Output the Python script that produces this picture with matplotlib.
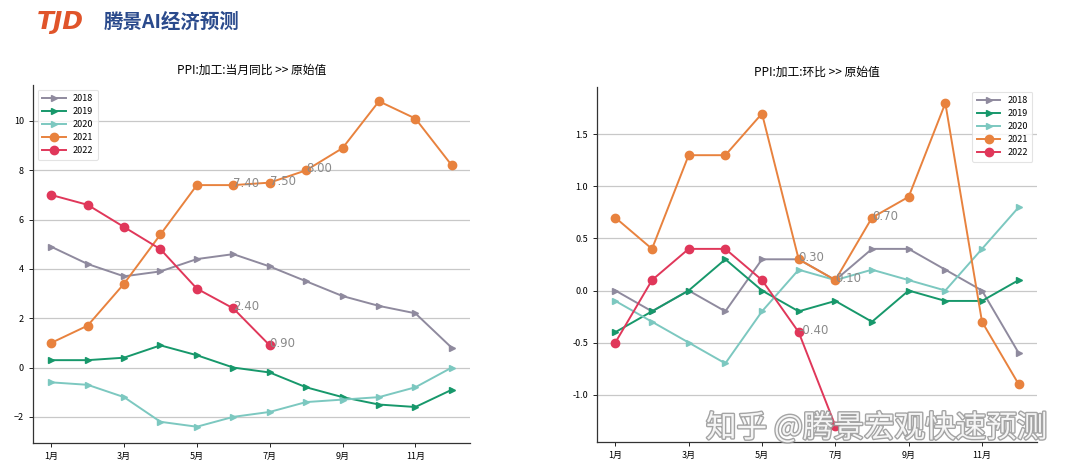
import matplotlib
matplotlib.use("Agg")
import matplotlib.pyplot as plt
import matplotlib.patheffects as pe

plt.rcParams['font.family'] = ['Noto Sans CJK SC', 'DejaVu Sans']

months = list(range(1, 13))
xtick_pos = [1, 3, 5, 7, 9, 11]
xtick_labels = ['1月', '3月', '5月', '7月', '9月', '11月']
years = ['2018', '2019', '2020', '2021', '2022']

yoy_2018 = [4.9, 4.2, 3.7, 3.9, 4.4, 4.6, 4.1, 3.5, 2.9, 2.5, 2.2, 0.8]
yoy_2019 = [0.3, 0.3, 0.4, 0.9, 0.5, 0.0, -0.2, -0.8, -1.2, -1.5, -1.6, -0.9]
yoy_2020 = [-0.6, -0.7, -1.2, -2.2, -2.4, -2.0, -1.8, -1.4, -1.3, -1.2, -0.8, 0.0]
yoy_2021 = [1.0, 1.7, 3.4, 5.4, 7.4, 7.4, 7.5, 8.0, 8.9, 10.8, 10.1, 8.2]
yoy_2022 = [7.0, 6.6, 5.7, 4.8, 3.2, 2.4, 0.9]

mom_2018 = [0.0, -0.2, 0.0, -0.2, 0.3, 0.3, 0.1, 0.4, 0.4, 0.2, 0.0, -0.6]
mom_2019 = [-0.4, -0.2, 0.0, 0.3, 0.0, -0.2, -0.1, -0.3, 0.0, -0.1, -0.1, 0.1]
mom_2020 = [-0.1, -0.3, -0.5, -0.7, -0.2, 0.2, 0.1, 0.2, 0.1, 0.0, 0.4, 0.8]
mom_2021 = [0.7, 0.4, 1.3, 1.3, 1.7, 0.3, 0.1, 0.7, 0.9, 1.8, -0.3, -0.9]
mom_2022 = [-0.5, 0.1, 0.4, 0.4, 0.1, -0.4, -1.3]

colors = ['#8f8a9e', '#17986b', '#7cc8c0', '#e8823e', '#e0375a']
markers = ['>', '>', '>', 'o', 'o']
msizes = [5, 5, 5, 6, 6]

# months whose values are labelled (visible in the reference)
yoy_label_2021 = [6, 7, 8]
yoy_label_2022 = [6, 7]
mom_label_2021 = [6, 7, 8]
mom_label_2022 = [6]

fig = plt.figure(figsize=(10.8, 4.72), dpi=100)
ax1 = fig.add_axes([33/1080, 1-443/472, (470-33)/1080, (443-85)/472])
ax2 = fig.add_axes([597/1080, 1-442/472, (1037-597)/1080, (442-87)/472])

def draw(ax, series, title, legend_loc, lab21, lab22):
    for i, (vals, yr) in enumerate(zip(series, years)):
        ax.plot(months[:len(vals)], vals, color=colors[i], marker=markers[i],
                markersize=msizes[i], linewidth=1.4, label=yr, zorder=3)
    for idx, mlist in ((3, lab21), (4, lab22)):
        for m in mlist:
            v = series[idx][m-1]
            ax.annotate(f'{v:.2f}', (m, v), xytext=(0, 1), textcoords='offset points',
                        ha='left', va='center', fontsize=8.5, color='#8a8a8a',
                        family='DejaVu Sans', zorder=4)
    ax.set_xticks(xtick_pos)
    ax.set_xticklabels(xtick_labels, fontsize=6.5)
    ax.tick_params(axis='y', labelsize=6.5, length=3, width=0.6)
    ax.tick_params(axis='x', length=3, width=0.6)
    ax.set_xlim(0.5, 12.5)
    ax.grid(axis='y', color='#c8c8c8', linewidth=0.9)
    ax.set_axisbelow(True)
    for s in ['top', 'right']:
        ax.spines[s].set_visible(False)
    for s in ['left', 'bottom']:
        ax.spines[s].set_color('#333333')
        ax.spines[s].set_linewidth(0.9)
    ax.set_title(title, fontsize=8.5, pad=8)
    leg = ax.legend(loc=legend_loc, fontsize=6.5, frameon=True, handlelength=2.6,
                    borderpad=0.5, labelspacing=0.45, fancybox=True)
    leg.get_frame().set_edgecolor('#dddddd')
    leg.get_frame().set_linewidth(0.8)

draw(ax1, [yoy_2018, yoy_2019, yoy_2020, yoy_2021, yoy_2022],
     'PPI:加工:当月同比 >> 原始值', 'upper left', yoy_label_2021, yoy_label_2022)
ax1.set_yticks([-2, 0, 2, 4, 6, 8, 10])
draw(ax2, [mom_2018, mom_2019, mom_2020, mom_2021, mom_2022],
     'PPI:加工:环比 >> 原始值', 'upper right', mom_label_2021, mom_label_2022)
ax2.set_yticks([-1.0, -0.5, 0.0, 0.5, 1.0, 1.5])
ax2.set_yticklabels(['-1.0', '-0.5', '0.0', '0.5', '1.0', '1.5'])

# logo
fig.text(37/1080, 1-22/472, 'TJD', fontsize=18, fontweight='bold', style='italic',
         color='#e0542a', va='center', ha='left', family='DejaVu Sans')
fig.text(104/1080, 1-22/472, '腾景AI经济预测', fontsize=14, fontweight='bold',
         color='#2a4a8c', va='center', ha='left')

# watermark
fig.text(706/1080, 1-428/472, '知乎 @腾景宏观快速预测', fontsize=22, color='#ffffff',
         va='center', ha='left', alpha=0.9,
         path_effects=[pe.withStroke(linewidth=2.0, foreground='#9a9a9a')])

fig.savefig('out.png', dpi=100)
